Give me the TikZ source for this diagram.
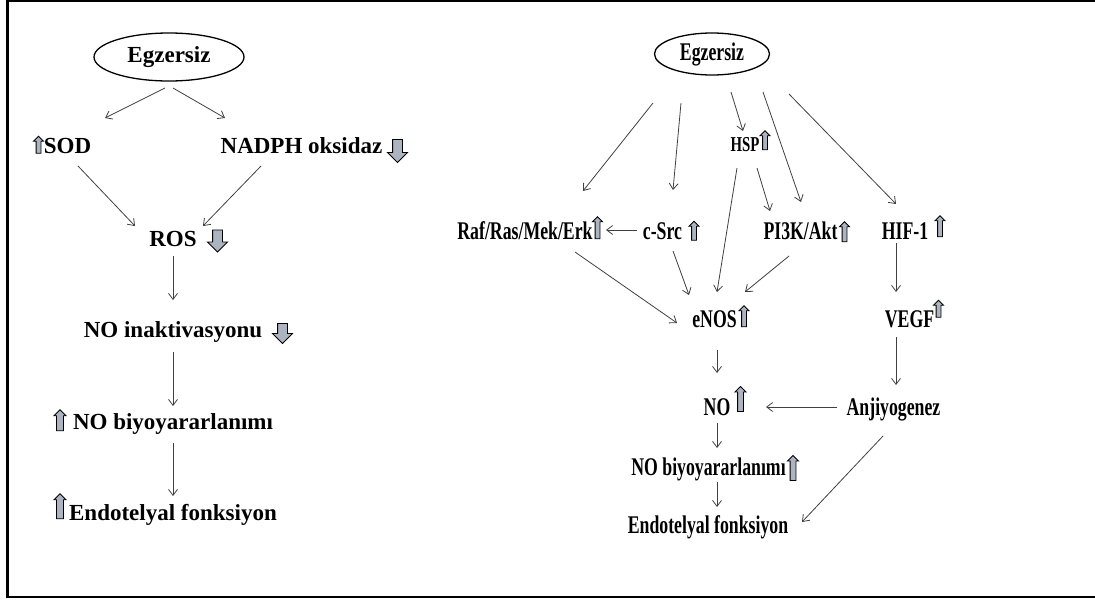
\documentclass[tikz,border=0pt]{standalone}
\usepackage{fontspec}
\setmainfont{Liberation Serif}
\usepackage{graphicx}
\usetikzlibrary{shapes.geometric, shapes.arrows, arrows.meta}
\definecolor{arrgray}{RGB}{172,180,194}
\newcommand{\nar}[1]{\scalebox{0.74}[1.06]{#1}}
\tikzset{
  lbl/.style={font=\bfseries\fontsize{23}{27}\selectfont, inner sep=3, anchor=base},
  rlbl/.style={lbl, font=\bfseries\fontsize{24}{28}\selectfont},
  egz/.style={ellipse, draw, line width=1.3, font=\bfseries\fontsize{23}{27}\selectfont, inner sep=2},
  conn/.style={-{Straight Barb[length=6pt,width=9pt]}, draw=black!75, line width=0.8},
  uparr/.style={single arrow, draw, fill=arrgray, line width=0.9, shape border rotate=90, minimum width=10, minimum height=21, single arrow head extend=2.5, inner sep=2.5},
  dnarr/.style={uparr, shape border rotate=270, minimum width=19, minimum height=22, single arrow head extend=5, inner sep=4.5}
}

\begin{document}
\begin{tikzpicture}[x=1pt, y=-1pt]
\useasboundingbox (0,0) rectangle (1095,600);
\draw[line width=2.4] (1095,1.2) -- (7.5,1.2) -- (7.5,597) -- (1095,597);

% left side
\node[egz, minimum width=150, minimum height=48] (egzL) at (169,57) {Egzersiz};
\node[lbl] (sod) at (67.5,153) {SOD};
\node[uparr, minimum width=9, minimum height=17, inner sep=2] (sodup) at (38.5,146) {};
\node[lbl] (nadph) at (301.5,153) {NADPH oksidaz};
\node[dnarr, minimum height=23] (nadphdn) at (397.5,148.5) {};
\node[lbl] (ros) at (173,246) {ROS};
\node[dnarr] (rosdn) at (217.5,238.5) {};
\node[lbl] (noin) at (173,337) {NO inaktivasyonu};
\node[dnarr, minimum height=20] (noindn) at (282.5,331) {};
\node[lbl] (nobL) at (173,429) {NO biyoyararlanımı};
\node[uparr, minimum width=12, inner sep=3] (nobLup) at (60,422) {};
\node[lbl] (endoL) at (173,520) {Endotelyal fonksiyon};
\node[uparr, minimum width=12, minimum height=25, inner sep=3] (endoLup) at (60,508) {};

\draw[conn] ([shift={(-4,31)}]egzL.center) -- ([shift={(37.5,-35)}]sod.base);
\draw[conn] ([shift={(4,31)}]egzL.center) -- ([shift={(-76.5,-35)}]nadph.base);
\draw[conn] ([shift={(10.5,13)}]sod.base) -- ([shift={(-38,-20)}]ros.base);
\draw[conn] ([shift={(-40.5,13)}]nadph.base) -- ([shift={(30,-20)}]ros.base);
\draw[conn] ([shift={(0,10)}]ros.base) -- ([shift={(0,-37)}]noin.base);
\draw[conn] ([shift={(0,15)}]noin.base) -- ([shift={(0,-23)}]nobL.base);
\draw[conn] ([shift={(0,14)}]nobL.base) -- ([shift={(0,-24)}]endoL.base);

% right side
\node[egz, minimum width=115, minimum height=42, font=\bfseries\fontsize{24}{28}\selectfont] (egzR) at (712,54) {\nar{Egzersiz}};
\node[rlbl, font=\bfseries\fontsize{20}{24}\selectfont] (hsp) at (745,151) {\nar{HSP}};
\node[uparr, minimum width=9, minimum height=19, inner sep=2] (hspup) at (765,141.5) {};
\node[rlbl] (raf) at (525,239) {\nar{Raf/Ras/Mek/Erk}};
\node[uparr, minimum width=8, minimum height=22, inner sep=2] (rafup) at (597.5,229) {};
\node[rlbl] (csrc) at (662.5,239) {\nar{c-Src}};
\node[uparr, minimum width=9, minimum height=19, inner sep=2] (csrcup) at (694,232) {};
\node[rlbl] (pik) at (800.5,239) {\nar{PI3K/Akt}};
\node[uparr, minimum width=9, minimum height=20, inner sep=2] (pikup) at (844.5,233) {};
\node[rlbl] (hif) at (905,239) {\nar{HIF-1}};
\node[uparr, minimum width=8, inner sep=2] (hifup) at (940,227.5) {};
\node[rlbl] (enos) at (714.5,327) {\nar{eNOS}};
\node[uparr, minimum width=9, inner sep=2] (enosup) at (744,317.5) {};
\node[rlbl] (vegf) at (909.5,327) {\nar{VEGF}};
\node[uparr, minimum width=8, minimum height=17, inner sep=2] (vegfup) at (938.5,310) {};
\node[rlbl] (no) at (717,415) {\nar{NO}};
\node[uparr, minimum height=25] (noup) at (740.5,400.5) {};
\node[rlbl] (anj) at (893.5,415) {\nar{Anjiyogenez}};
\node[rlbl] (nobR) at (708.5,475) {\nar{NO biyoyararlanımı}};
\node[uparr, minimum height=25] (nobRup) at (793,469.5) {};
\node[rlbl] (endoR) at (708,533) {\nar{Endotelyal fonksiyon}};

\draw[conn] ([shift={(-59,49)}]egzR.center) -- ([shift={(58,-48)}]raf.base);
\draw[conn] ([shift={(-31,49)}]egzR.center) -- ([shift={(10.5,-49)}]csrc.base);
\draw[conn] ([shift={(19,38)}]egzR.center) -- ([shift={(-2,-20)}]hsp.base);
\draw[conn] ([shift={(51,38)}]egzR.center) -- ([shift={(0.5,-37)}]pik.base);
\draw[conn] ([shift={(77,40)}]egzR.center) -- ([shift={(-9,-35)}]hif.base);
\draw[conn] ([shift={(-25.5,-9)}]csrc.base) -- ([shift={(81,-9)}]raf.base);
\draw[conn] ([shift={(50,13)}]raf.base) -- ([shift={(-37.5,-4)}]enos.base);
\draw[conn] ([shift={(10.5,12)}]csrc.base) -- ([shift={(-25.5,-32)}]enos.base);
\draw[conn] ([shift={(-8,17)}]hsp.base) -- ([shift={(2.5,-35)}]enos.base);
\draw[conn] ([shift={(12,17)}]hsp.base) -- ([shift={(-30.5,-28)}]pik.base);
\draw[conn] ([shift={(-11.5,17)}]pik.base) -- ([shift={(30.5,-35)}]enos.base);
\draw[conn] ([shift={(-9,4)}]hif.base) -- ([shift={(-13.5,-35)}]vegf.base);
\draw[conn] ([shift={(2.5,23)}]enos.base) -- ([shift={(0,-42)}]no.base);
\draw[conn] ([shift={(-13.5,10)}]vegf.base) -- ([shift={(2.5,-30)}]anj.base);
\draw[conn] ([shift={(-56.5,-8)}]anj.base) -- ([shift={(49,-8)}]no.base);
\draw[conn] ([shift={(0,8)}]no.base) -- ([shift={(8.5,-27)}]nobR.base);
\draw[conn] ([shift={(8.5,7)}]nobR.base) -- ([shift={(9,-26)}]endoR.base);
\draw[conn] ([shift={(-10.5,21)}]anj.base) -- ([shift={(94,-11)}]endoR.base);
\end{tikzpicture}
\end{document}
